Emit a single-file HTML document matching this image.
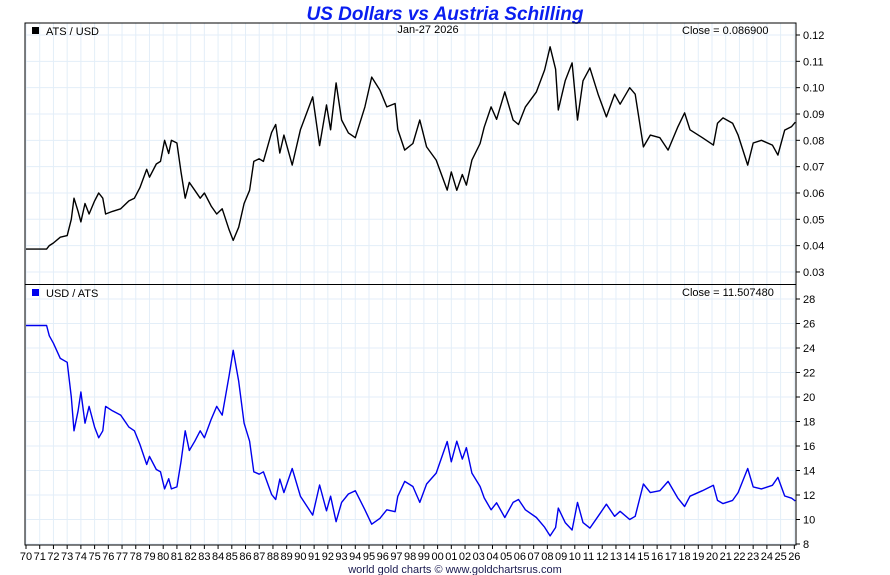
<!DOCTYPE html>
<html><head><meta charset="utf-8"><style>
body{margin:0;background:#fff;}
svg{display:block;font-family:"Liberation Sans",Arial,sans-serif;}
</style></head><body>
<svg id="c" width="890" height="575" viewBox="0 0 890 575">
<text x="445" y="20" text-anchor="middle" font-size="19" font-weight="bold" font-style="italic" fill="#0a1ef0">US Dollars vs Austria Schilling</text>
<g id="grid"></g>
<g id="axes"></g>
<g id="series"></g>
<rect x="25" y="23" width="771" height="522" fill="none" stroke="#000" stroke-width="1"/>
<line x1="25" y1="284.5" x2="796" y2="284.5" stroke="#000"/>
<rect x="32" y="27" width="7" height="7" fill="#000"/>
<text x="46" y="35" font-size="11">ATS / USD</text>
<text x="428" y="33" font-size="11" text-anchor="middle">Jan-27  2026</text>
<text x="682" y="34" font-size="11">Close = 0.086900</text>
<rect x="32" y="289" width="7" height="7" fill="#0000ee"/>
<text x="46" y="297" font-size="11">USD / ATS</text>
<text x="682" y="296" font-size="11">Close = 11.507480</text>
<text x="455" y="573" font-size="11" text-anchor="middle" fill="#1a1a50">world gold charts © www.goldchartsrus.com</text>
</svg>
<script>
const years=[1970,1971.5,1971.7,1972,1972.5,1973,1973.3,1973.5,1973.8,1974,1974.3,1974.6,1975,1975.3,1975.6,1975.8,1976.3,1976.9,1977.5,1977.9,1978.3,1978.8,1979,1979.5,1979.8,1980.1,1980.4,1980.6,1981,1981.3,1981.6,1981.9,1982.3,1982.7,1983,1983.5,1983.9,1984.3,1984.8,1985.1,1985.5,1985.9,1986.3,1986.6,1987,1987.3,1987.9,1988.2,1988.5,1988.8,1989.4,1990,1990.9,1991.4,1991.9,1992.2,1992.6,1993,1993.5,1994,1994.7,1995.2,1995.8,1996.3,1996.9,1997.1,1997.6,1998.2,1998.7,1999.2,1999.9,2000.7,2001,2001.4,2001.8,2002.1,2002.5,2003.1,2003.4,2003.9,2004.3,2004.9,2005.5,2005.9,2006.4,2007.2,2007.8,2008.2,2008.6,2008.8,2009.3,2009.8,2010.2,2010.6,2011.1,2011.7,2012.3,2012.9,2013.3,2014,2014.4,2015,2015.5,2016.2,2016.8,2017.5,2018,2018.4,2019.3,2020.1,2020.4,2020.8,2021.5,2021.9,2022.6,2023,2023.6,2024.4,2024.8,2025.3,2025.8,2026.07];
const atsUsd=[.0387,.0387,.0400,.0410,.0432,.0438,.0500,.0580,.0530,.0490,.0560,.0520,.0570,.0600,.0580,.0520,.0530,.0540,.0570,.0580,.0620,.0690,.0660,.0710,.0720,.0800,.0750,.0800,.0790,.0680,.0580,.0640,.0610,.0580,.0600,.0550,.0520,.0540,.0460,.0420,.0470,.0560,.0610,.0720,.0730,.0720,.0830,.0860,.0752,.0820,.0706,.0840,.0965,.0780,.0934,.0840,.1018,.0877,.0828,.0810,.0927,.1040,.0990,.0927,.0940,.0841,.0763,.0788,.0877,.0775,.0725,.0611,.0680,.0610,.0670,.0630,.0725,.0788,.0850,.0927,.0880,.0984,.0877,.0860,.0927,.0984,.1067,.1155,.1070,.0915,.1026,.1094,.0877,.1026,.1075,.0975,.0889,.0975,.0937,.1000,.0975,.0775,.0820,.0810,.0763,.0850,.0904,.0840,.0810,.0782,.0865,.0885,.0865,.0820,.0706,.0790,.0800,.0782,.0744,.0839,.0852,.0869];
const usdAts=[25.84,25.84,25.0,24.39,23.15,22.83,20.0,17.24,18.87,20.41,17.86,19.23,17.54,16.67,17.24,19.23,18.87,18.52,17.54,17.24,16.13,14.49,15.15,14.08,13.89,12.5,13.33,12.5,12.66,14.71,17.24,15.63,16.39,17.24,16.67,18.18,19.23,18.52,21.74,23.81,21.28,17.86,16.39,13.89,13.70,13.89,12.05,11.63,13.30,12.20,14.16,11.90,10.36,12.82,10.71,11.90,9.82,11.40,12.08,12.35,10.79,9.62,10.10,10.79,10.64,11.89,13.11,12.69,11.40,12.90,13.79,16.37,14.71,16.39,14.93,15.87,13.79,12.69,11.76,10.79,11.36,10.16,11.40,11.63,10.79,10.16,9.37,8.66,9.35,10.93,9.75,9.14,11.40,9.75,9.30,10.26,11.25,10.26,10.67,10.0,10.26,12.90,12.20,12.35,13.11,11.76,11.06,11.90,12.35,12.79,11.56,11.30,11.56,12.20,14.16,12.66,12.50,12.79,13.44,11.92,11.74,11.51];
const topTicks=[0.03,0.04,0.05,0.06,0.07,0.08,0.09,0.10,0.11,0.12];
const botTicks=[8,10,12,14,16,18,20,22,24,26,28];
const xLabels=["70","71","72","73","74","75","76","77","78","79","80","81","82","83","84","85","86","87","88","89","90","91","92","93","94","95","96","97","98","99","00","01","02","03","04","05","06","07","08","09","10","11","12","13","14","15","16","17","18","19","20","21","22","23","24","25","26"];

const NS="http://www.w3.org/2000/svg";
const X=y=>26+(y-1970)*13.72;
const YT=v=>35+(0.12-v)*2633;
const YB=v=>299+(28-v)*12.25;
function mk(tag,attrs,parent){const e=document.createElementNS(NS,tag);for(const k in attrs)e.setAttribute(k,attrs[k]);parent.appendChild(e);return e;}
const grid=document.getElementById('grid'),axes=document.getElementById('axes'),ser=document.getElementById('series');
xLabels.forEach((l,i)=>{
  const x=X(1970+i);
  const g=mk('line',{x1:x,y1:23,x2:x,y2:545,stroke:'#e3eef8','stroke-width':1},grid);
  
  
  const t=mk('line',{x1:x,y1:545,x2:x,y2:549,stroke:'#000'},axes);
  
  
  const tx=mk('text',{x:x,y:560,'font-size':11,'text-anchor':'middle'},axes);
  tx.textContent=l;
  
  
});
topTicks.forEach(v=>{
  const y=YT(v);
  const g=mk('line',{x1:25,y1:y,x2:796,y2:y,stroke:'#e3eef8'},grid);
  
  
  const t=mk('line',{x1:796,y1:y,x2:800,y2:y,stroke:'#000'},axes);
  
  
  const tx=mk('text',{x:803,y:y+4,'font-size':11},axes);
  tx.textContent=v.toFixed(2);
  
  
});
botTicks.forEach(v=>{
  const y=YB(v);
  const g=mk('line',{x1:25,y1:y,x2:796,y2:y,stroke:'#e3eef8'},grid);
  
  
  const t=mk('line',{x1:796,y1:y,x2:800,y2:y,stroke:'#000'},axes);
  
  
  const tx=mk('text',{x:803,y:y+4,'font-size':11},axes);
  tx.textContent=String(v);
  
  
});
const p1=mk('polyline',{points:years.map((y,i)=>X(y).toFixed(1)+','+YT(atsUsd[i]).toFixed(1)).join(' '),fill:'none',stroke:'#000','stroke-width':1.4,'stroke-linejoin':'round'},ser);


const p2=mk('polyline',{points:years.map((y,i)=>X(y).toFixed(1)+','+YB(usdAts[i]).toFixed(1)).join(' '),fill:'none',stroke:'#0000ee','stroke-width':1.4,'stroke-linejoin':'round'},ser);


</script>
</body></html>
